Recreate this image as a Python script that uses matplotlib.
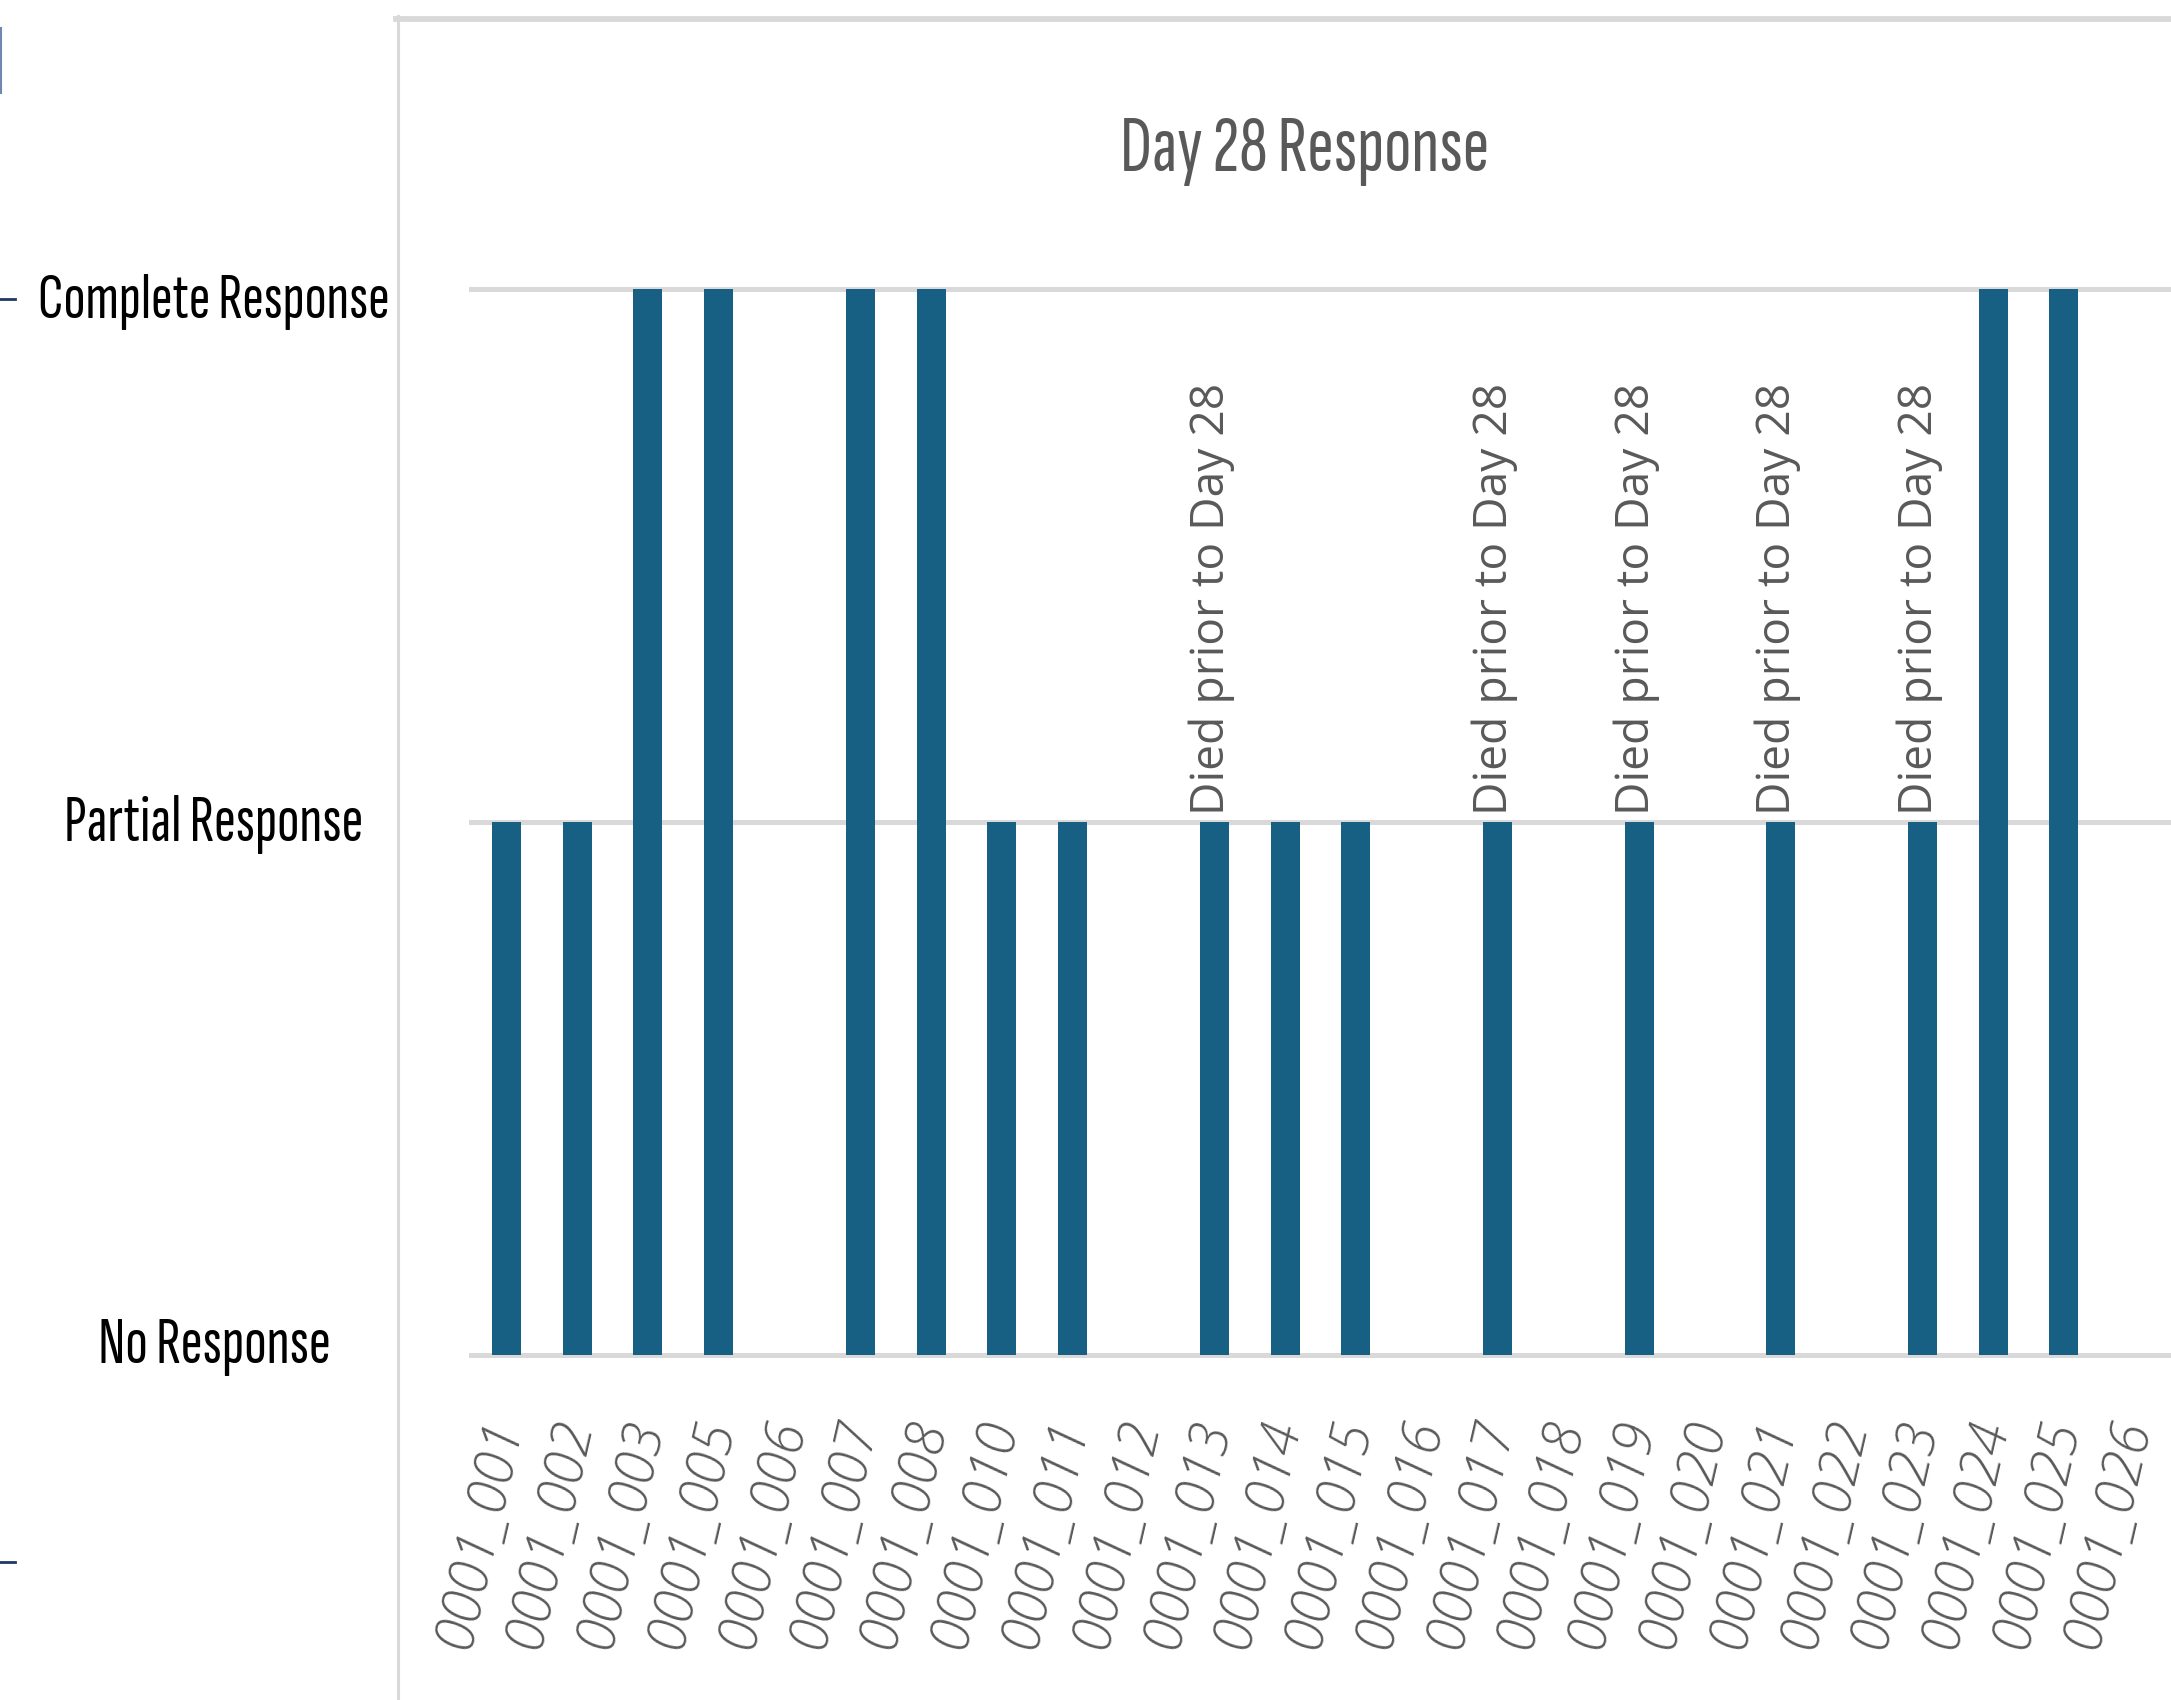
import matplotlib
matplotlib.use("Agg")
import matplotlib.pyplot as plt
from matplotlib.lines import Line2D
from matplotlib import font_manager as fm
from matplotlib.font_manager import FontProperties
from matplotlib.textpath import TextPath

# ---------------- data ----------------
patients = ["0001_001", "0001_002", "0001_003", "0001_005", "0001_006", "0001_007",
            "0001_008", "0001_010", "0001_011", "0001_012", "0001_013", "0001_014",
            "0001_015", "0001_016", "0001_017", "0001_018", "0001_019", "0001_020",
            "0001_021", "0001_022", "0001_023", "0001_024", "0001_025", "0001_026"]
# 0 = No Response, 1 = Partial Response, 2 = Complete Response
response = [1, 1, 2, 2, 0, 2, 2, 1, 1, 0, 1, 1, 1, 0, 1, 0, 1, 0, 1, 0, 1, 2, 2, 0]
died_prior = ["0001_013", "0001_017", "0001_019", "0001_021", "0001_023"]
note_text = "Died prior to Day 28"
levels = [0, 1, 2]
level_labels = ["No Response", "Partial Response", "Complete Response"]
title = "Day 28 Response"

# ---------------- style ----------------
W, H = 2171, 1700
BAR = "#176083"
GRID = "#d9d9d9"
GREY = "#595959"
BODY = ["Open Sans", "DejaVu Sans"]
CW = 300

# pick the installed condensed face whose proportions are closest to the reference
installed = {f.name for f in fm.fontManager.ttflist}
cands = ["Antonio", "Oswald", "Saira ExtraCondensed", "Saira Extra Condensed",
         "Sofia Sans Extra Condensed", "Fira Sans Extra Condensed", "Barlow Condensed"]


def _ratio(name):
    fp = FontProperties(family=name, weight=CW)
    w = TextPath((0, 0), "Complete Response", prop=fp, size=100).get_extents().width
    h = TextPath((0, 0), "H", prop=fp, size=100).get_extents().height
    return w / h


avail = [n for n in cands if n in installed]
COND_NAME = min(avail, key=lambda n: abs(_ratio(n) - 6.4)) if avail else "DejaVu Sans"
COND = [COND_NAME, "DejaVu Sans"]

fig = plt.figure(figsize=(W / 100, H / 100), dpi=100)
fig.patch.set_facecolor("white")


def fx(px):
    return px / W


def fy(py):
    return 1 - py / H


# axes: x from 471 px to 2170 px, y 0 at 1355 px and 2 at 288.5 px
ylo, yhi = -0.05, 2.05
unit = (1355 - 288.5) / 2
top_px = 288.5 - (yhi - 2) * unit
bot_px = 1355 + (0 - ylo) * unit
ax = fig.add_axes([fx(471), fy(bot_px), fx(2170) - fx(471), (bot_px - top_px) / H])
ax.set_xlim(-0.5, len(patients) - 0.5)
ax.set_ylim(ylo, yhi)
for s in ax.spines.values():
    s.set_visible(False)
ax.set_yticks([])
ax.patch.set_alpha(0)

for lv in levels:
    ax.axhline(lv, color=GRID, lw=3.6, zorder=1, clip_on=False)

x = list(range(len(patients)))
ax.bar(x, response, width=0.41, color=BAR, zorder=3)

ax.set_xticks(x)
ax.set_xticklabels(patients, rotation=77, ha="right", va="center",
                   rotation_mode="anchor", color=GREY, family=BODY,
                   style="italic", weight="light", fontsize=20)
PAD = 28
ax.tick_params(axis="x", length=0, pad=PAD)

notes = []
for p in died_prior:
    i = patients.index(p)
    t = ax.annotate(note_text, xy=(i, response[i]), xytext=(-2, 5),
                    textcoords="offset points", rotation=90, ha="center", va="bottom",
                    color=GREY, family=BODY, fontsize=30, zorder=4)
    notes.append(t)

ttl = fig.text(fx(1305), fy(171), title, ha="center", va="baseline", color=GREY,
               family=COND, weight=CW, fontsize=60)

ylab_base = [1363, 841, 318]
ylabs = []
for lab, b in zip(level_labels, ylab_base):
    ylabs.append(fig.text(fx(214), fy(b), lab, ha="center", va="baseline", color="black",
                          family=COND, weight=CW, fontsize=50))

# chart frame and stray axis fragments on the left
fig.add_artist(Line2D([fx(397.5), fx(397.5)], [fy(16), fy(1700)], color=GRID, lw=2.2))
fig.add_artist(Line2D([fx(396), fx(2171)], [fy(19), fy(19)], color=GRID, lw=4.2))
fig.add_artist(Line2D([fx(0.5), fx(0.5)], [fy(28), fy(93)], color="#7088b0", lw=1.5))
for yy in (299, 1562):
    fig.add_artist(Line2D([fx(0), fx(15)], [fy(yy), fy(yy)], color="#1f3864", lw=2))

# -------- fit text sizes to measured pixel extents --------
renderer = fig.canvas.get_renderer()


def fit(t, target, dim):
    for _ in range(3):
        bb = t.get_window_extent(renderer)
        cur = bb.width if dim == "w" else bb.height
        if cur > 0:
            t.set_fontsize(t.get_fontsize() * target / cur)


fit(ttl, 370, "w")
for t, w in zip(ylabs, [233, 299, 352]):
    fit(t, w, "w")
for t in notes:
    fit(t, 432, "h")
xls = ax.get_xticklabels()
for t in xls:
    fit(t, 240, "h")
# place the tick-label block so that its upper end sits just below the axis line
bb = xls[0].get_window_extent(renderer)
top_from_top = H - bb.y1
ax.tick_params(axis="x", pad=PAD - (top_from_top - 1414) * 0.72)

fig.savefig("out.png", dpi=100, facecolor="white")
